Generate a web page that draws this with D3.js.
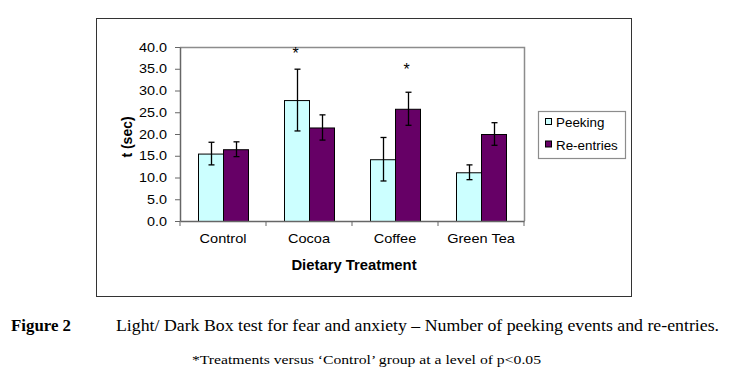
<!DOCTYPE html>
<html>
<head>
<meta charset="utf-8">
<script src="https://cdn.jsdelivr.net/npm/d3@7"></script>
<style>
  html, body { margin: 0; padding: 0; background: #fff; }
  svg { display: block; }
  .sans { font-family: Arial, "Liberation Sans", sans-serif; fill: #000; }
  .serif { font-family: "Times New Roman", "Liberation Serif", serif; fill: #000; }
</style>
</head>
<body>
<svg id="chart" width="731" height="379"></svg>
<script>
// data
const categories = ['Control', 'Cocoa', 'Coffee', 'Green Tea'];
const seriesNames = ['Peeking', 'Re-entries'];
const peeking = [15.5, 27.8, 14.2, 11.2];
const peekingErr = [2.6, 7.1, 5.0, 1.7];
const reentries = [16.5, 21.5, 25.8, 20.0];
const reentriesErr = [1.7, 2.9, 3.8, 2.6];
// significance markers (category, series, height in sec of the asterisk)
const stars = [
    { cat: 'Cocoa', series: 'Peeking', v: 39.6 },
    { cat: 'Coffee', series: 'Re-entries', v: 35.8 }
];
const yTicks = [0, 5, 10, 15, 20, 25, 30, 35, 40];
const colors = { 'Peeking': '#ccffff', 'Re-entries': '#660066' };

const plot = { left: 180, right: 524, top: 47, bottom: 221 };

const svg = d3.select('#chart');

// outer chart frame
svg.append('rect')
    .attr('x', 96.5).attr('y', 18.5)
    .attr('width', 535).attr('height', 278)
    .attr('fill', '#fff')
    .attr('stroke', '#333');

const x0 = d3.scaleBand()
    .domain(categories)
    .range([plot.left, plot.right])
    .paddingInner(0).paddingOuter(0);
const x1 = d3.scaleBand()
    .domain(seriesNames)
    .range([0, x0.bandwidth()])
    .paddingInner(0).paddingOuter(0.72);
const y = d3.scaleLinear()
    .domain([0, 40])
    .range([plot.bottom, plot.top]);

// plot area border (top / right grey)
svg.append('path')
    .attr('d', `M${plot.left},${plot.top + 0.5}H${plot.right + 0.5}V${plot.bottom}`)
    .attr('fill', 'none')
    .attr('stroke', '#8c8c8c')
    .attr('stroke-width', 1.5);

// rows: one per category with both series
const rows = categories.map((c, i) => [
    { cat: c, series: 'Peeking', v: peeking[i], e: peekingErr[i] },
    { cat: c, series: 'Re-entries', v: reentries[i], e: reentriesErr[i] }
]);

const groups = svg.append('g')
    .selectAll('g')
    .data(rows)
    .enter().append('g')
        .attr('transform', d => `translate(${x0(d[0].cat)},0)`);

groups.selectAll('rect')
    .data(d => d)
    .enter().append('rect')
        .attr('x', d => x1(d.series) + 0.5)
        .attr('y', d => y(d.v) + 0.5)
        .attr('width', x1.bandwidth())
        .attr('height', d => y(0) - y(d.v))
        .attr('fill', d => colors[d.series])
        .attr('stroke', '#000')
        .attr('stroke-width', 1);

// error bars
const err = groups.selectAll('g.err')
    .data(d => d)
    .enter().append('g')
        .attr('class', 'err')
        .attr('transform', d => `translate(${Math.round(x1(d.series) + x1.bandwidth() / 2) + 0.5},0)`)
        .attr('stroke', '#000')
        .attr('stroke-width', 1.3);
err.append('line')
    .attr('y1', d => y(d.v + d.e)).attr('y2', d => y(d.v - d.e));
err.append('line')
    .attr('x1', -3).attr('x2', 3)
    .attr('y1', d => y(d.v + d.e)).attr('y2', d => y(d.v + d.e));
err.append('line')
    .attr('x1', -3).attr('x2', 3)
    .attr('y1', d => y(d.v - d.e)).attr('y2', d => y(d.v - d.e));

// y axis
const yAxis = svg.append('g')
    .attr('transform', `translate(${plot.left},0)`)
    .call(d3.axisLeft(y).tickValues(yTicks).tickSize(5).tickSizeOuter(0).tickFormat(d3.format('.1f')));
yAxis.select('.domain').attr('stroke', '#666').attr('stroke-width', 1.5);
yAxis.selectAll('.tick line').attr('stroke', '#666');
yAxis.selectAll('.tick text')
    .attr('class', 'sans')
    .attr('font-size', 12)
    .attr('x', -13 / 1.2)
    .attr('dy', '0.35em')
    .attr('transform', 'scale(1.2,1)');

// x axis, labels stretched a bit like the original
const xAxis = svg.append('g')
    .attr('transform', `translate(0,${plot.bottom})`)
    .call(d3.axisBottom(x0).tickSize(0).tickSizeOuter(0));
xAxis.select('.domain').attr('stroke', '#666').attr('stroke-width', 1.5);
xAxis.selectAll('.tick text')
    .attr('class', 'sans')
    .attr('font-size', 13)
    .attr('x', 0)
    .attr('y', 22)
    .attr('dy', 0)
    .attr('transform', 'scale(1.12,1)');

// category boundary tick marks
svg.append('g')
    .selectAll('line')
    .data(categories.concat(['__end']))
    .enter().append('line')
        .attr('x1', (d, i) => i < categories.length ? x0(d) : plot.right)
        .attr('x2', (d, i) => i < categories.length ? x0(d) : plot.right)
        .attr('y1', plot.bottom)
        .attr('y2', plot.bottom + 5)
        .attr('stroke', '#666');

// asterisks
svg.append('g')
    .selectAll('text')
    .data(stars)
    .enter().append('text')
        .attr('class', 'sans')
        .attr('font-size', 16)
        .attr('text-anchor', 'middle')
        .attr('x', d => x0(d.cat) + x1(d.series) + x1.bandwidth() / 2 - 1)
        .attr('y', d => y(d.v) + 10)
        .text('*');

// axis titles
svg.append('text')
    .attr('class', 'sans')
    .attr('font-size', 14)
    .attr('font-weight', 'bold')
    .attr('text-anchor', 'middle')
    .attr('transform', `translate(132,${(plot.top + plot.bottom) / 2 + 3}) rotate(-90)`)
    .text('t (sec)');

svg.append('text')
    .attr('class', 'sans')
    .attr('font-size', 14)
    .attr('font-weight', 'bold')
    .attr('text-anchor', 'middle')
    .attr('transform', `translate(${(plot.left + plot.right) / 2 + 2},270) scale(1.06,1)`)
    .text('Dietary Treatment');

// legend
const legend = svg.append('g').attr('transform', 'translate(538,111)');
legend.append('rect')
    .attr('x', 0.5).attr('y', 0.5)
    .attr('width', 87).attr('height', 47)
    .attr('fill', '#fff')
    .attr('stroke', '#8c8c8c')
    .attr('stroke-width', 1.2);
const li = legend.selectAll('g.item')
    .data(seriesNames)
    .enter().append('g')
        .attr('class', 'item')
        .attr('transform', (d, i) => `translate(7,${11 + i * 22.5})`);
li.append('rect')
    .attr('x', 0.5).attr('y', -3.5)
    .attr('width', 6).attr('height', 6)
    .attr('fill', d => colors[d])
    .attr('stroke', '#000');
li.append('text')
    .attr('class', 'sans')
    .attr('font-size', 13.4)
    .attr('x', 11)
    .attr('y', 5)
    .text(d => d);

// caption
svg.append('text')
    .attr('class', 'serif')
    .attr('font-size', 16)
    .attr('font-weight', 'bold')
    .attr('x', 11).attr('y', 331)
    .attr('textLength', 60)
    .attr('lengthAdjust', 'spacingAndGlyphs')
    .text('Figure 2');
svg.append('text')
    .attr('class', 'serif')
    .attr('font-size', 16)
    .attr('x', 116).attr('y', 331)
    .attr('textLength', 603)
    .attr('lengthAdjust', 'spacingAndGlyphs')
    .text('Light/ Dark Box test for fear and anxiety \u2013 Number of peeking events and re-entries.');
svg.append('text')
    .attr('class', 'serif')
    .attr('font-size', 13)
    .attr('x', 192).attr('y', 364)
    .attr('textLength', 349)
    .attr('lengthAdjust', 'spacingAndGlyphs')
    .text('*Treatments versus \u2018Control\u2019 group at a level of p<0.05');
</script>
</body>
</html>
